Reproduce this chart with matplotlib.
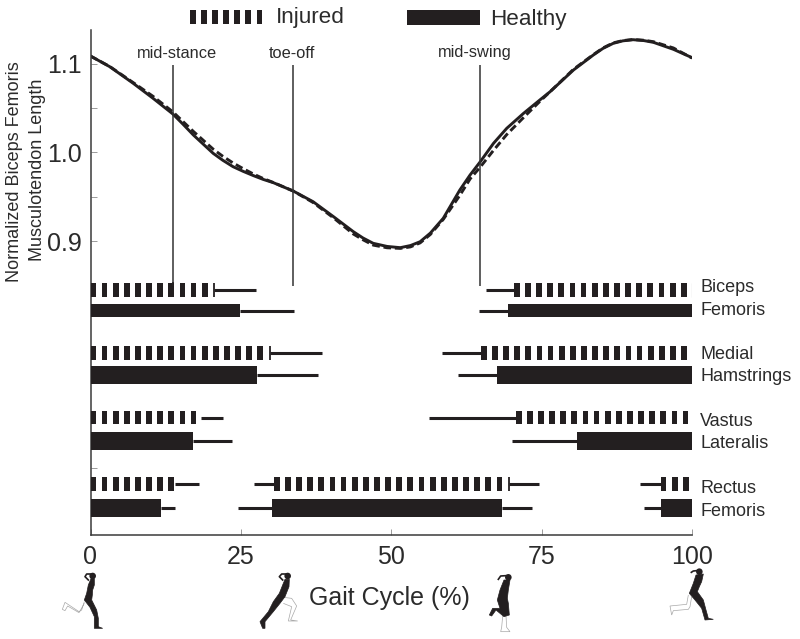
"""Biceps femoris musculotendon length and muscle activity over the gait cycle."""
import numpy as np
import matplotlib
matplotlib.use("Agg")
import matplotlib.pyplot as plt
from matplotlib.patches import Circle, Polygon

plt.rcParams["font.family"] = ["Liberation Sans", "DejaVu Sans"]

INK = "#231f20"
TXT = "#2b2b2b"
GREY = "#8a8a8a"

# curve
GAIT = [0, 3.2, 7.1, 10.4, 13.7, 15.4, 17.1, 20.4, 22, 23.7, 25.4, 27.1, 28.7, 30.4, 33.7, 37, 40.4, 43.7, 45.3, 47,
        49.3, 51.5, 53.2, 54.8, 56.5, 58.65, 61.4, 63.1, 64.8, 67, 69.2, 72, 74.7, 76.4, 80.3, 83.6, 85.2, 86.9,
        88.5, 90.2, 92, 93.6, 96.9, 100]
HEALTHY_LEN = [1.1084, 1.0964, 1.0777, 1.0608, 1.0431, 1.0315, 1.0195, 0.9988, 0.991, 0.9838, 0.9785, 0.9737, 0.9695,
               0.9658, 0.9564, 0.9444, 0.9275, 0.9106, 0.9035, 0.8975, 0.894, 0.8926, 0.895, 0.8993, 0.909, 0.9257,
               0.9575, 0.9744, 0.9894, 1.0101, 1.027, 1.0439, 1.0589, 1.0682, 1.0927, 1.1096, 1.117, 1.1227, 1.1255,
               1.1268, 1.1258, 1.1238, 1.116, 1.1066]
INJURED_LEN = [1.1084, 1.0966, 1.0785, 1.063, 1.0455, 1.0345, 1.0235, 1.0035, 0.9955, 0.988, 0.9815, 0.9755, 0.9705,
               0.966, 0.9564, 0.9435, 0.9262, 0.908, 0.9015, 0.8955, 0.8925, 0.8918, 0.8935, 0.898, 0.9075, 0.9245,
               0.9515, 0.970, 0.9834, 1.0022, 1.02, 1.0392, 1.0573, 1.0682, 1.0935, 1.11, 1.1175, 1.1232, 1.1258,
               1.127, 1.1262, 1.1245, 1.1175, 1.1062]

EVENTS = ["mid-stance", "toe-off", "mid-swing"]
EVENT_X = [13.7, 33.7, 64.8]

# activity on/off in % gait cycle, one entry per muscle
INJ_BARS = [[(0, 19.5), (70.4, 99.1)],
            [(0, 28.7), (64.9, 99.2)],
            [(0, 17.6), (70.7, 99.3)],
            [(0, 13.9), (30.5, 68.4), (94.8, 99.4)]]
INJ_WHISK = [[(20.5, 27.5), (65.7, 70.4)],
             [(29.8, 38.5), (58.5, 65.0)],
             [(18.3, 22.0), (56.3, 70.7)],
             [(14.1, 18.0), (27.2, 30.5), (69.6, 74.5), (91.3, 94.8)]]
INJ_TICKS = [[20.5, 99.95], [29.85], [], [69.65]]
HEA_BARS = [[(0, 24.8), (69.4, 100)],
            [(0, 27.6), (67.5, 100)],
            [(0, 17.1), (80.8, 100)],
            [(0, 11.7), (30.2, 68.4), (94.9, 100)]]
HEA_WHISK = [[(24.8, 33.9), (64.6, 69.4)],
             [(27.6, 37.8), (61.1, 67.5)],
             [(17.1, 23.6), (70.1, 80.8)],
             [(11.7, 14.0), (24.6, 30.2), (68.4, 73.4), (92.1, 94.9)]]
LABELS = ["Biceps", "Femoris", "Medial", "Hamstrings", "Vastus", "Lateralis", "Rectus", "Femoris"]

# layout in figure pixels
L, R, T, B = 90.5, 692.0, 30.0, 535.0
INJ_Y = [289.7, 353.2, 417.5, 484.3]
HEA_Y = [310.7, 375.0, 441.0, 508.0]
HEA_H = [13.4, 18, 18, 18]
INJ_H = 13.8
LABEL_Y = [287.5, 310.5, 354.5, 376.5, 421.5, 444, 488.5, 511]
EVENT_LABEL_X = [177, 292, 475]
PERIOD, STRIPE = 1.85, 0.96


def stripes(ax, lo, hi, y, h):
    starts = np.arange(lo, hi - STRIPE + 0.2, PERIOD)
    ax.broken_barh([(s, STRIPE) for s in starts], (y - h / 2, h), color=INK, lw=0, clip_on=False)


def runner(ax, ox, oy, head, body, leg, tail):
    def px(pts):
        return [(ox + a / 3, oy + b / 3) for a, b in pts]
    ax.add_patch(Polygon(px(leg), closed=False, fill=False, ec="#a8a8a8", lw=0.5))
    ax.add_patch(Polygon(px(body), closed=True, fc=INK, ec=INK, lw=0.5))
    ax.add_patch(Circle((ox + head[0] / 3, oy + head[1] / 3), 3.3, fc=INK, ec=INK, lw=0))
    ax.plot(*zip(*px(tail)), color=INK, lw=1.2)


fig = plt.figure(figsize=(8, 6.39), dpi=100)
box = [L / 800, 1 - B / 639, (R - L) / 800, (B - T) / 639]

ax = fig.add_axes(box)
ax.set_xlim(0, 100)
ax.set_ylim(1.1 - (B - 63.5) / 888, 1.1 - (T - 63.5) / 888)
ax.patch.set_alpha(0)
for s in ["top", "right"]:
    ax.spines[s].set_visible(False)
for s in ["left", "bottom"]:
    ax.spines[s].set_color("#3a3a3a")
    ax.spines[s].set_linewidth(1.1)
ax.set_xticks([0, 25, 50, 75, 100])
ax.set_yticks([0.9, 1.0, 1.1])
ax.set_yticks([0.645, 0.95, 1.05], minor=True)
ax.tick_params(axis="both", which="both", direction="in", length=4.5, width=0.6, color=GREY,
               labelcolor=TXT)
ax.tick_params(axis="x", labelsize=18, pad=7)
ax.tick_params(axis="y", labelsize=18, pad=6)
ax.plot(GAIT, INJURED_LEN, color=INK, lw=2.1, ls=(0, (2.6, 1.3)), solid_capstyle="butt")
ax.plot(GAIT, HEALTHY_LEN, color=INK, lw=2.1, solid_joinstyle="round")

# second axes on the same spot, y in pixels for the activity rows
bx = fig.add_axes(box, sharex=ax)
bx.set_ylim(B, T)
bx.axis("off")
for x in EVENT_X:
    bx.vlines(x, 65, 285.5, color="#333333", lw=1.1)
bx.vlines(EVENT_X[0], 282, 296, color=INK, lw=1.1)

for i in range(4):
    for lo, hi in INJ_BARS[i]:
        stripes(bx, lo, hi, INJ_Y[i], INJ_H)
    for lo, hi in INJ_WHISK[i]:
        bx.hlines(INJ_Y[i], lo, hi, color=INK, lw=2.2)
    for t in INJ_TICKS[i]:
        bx.vlines(t, INJ_Y[i] - INJ_H / 2, INJ_Y[i] + INJ_H / 2, color=INK if t < 99 else GREY,
                  lw=1.3 if t < 99 else 0.8)
    bx.broken_barh([(lo, hi - lo) for lo, hi in HEA_BARS[i]], (HEA_Y[i] - HEA_H[i] / 2, HEA_H[i]),
                   color=INK, lw=0)
    for lo, hi in HEA_WHISK[i]:
        bx.hlines(HEA_Y[i], lo, hi, color=INK, lw=2.2)

# legend
stripes(bx, 16.5, 28.7, 16.8, 13.8)
bx.broken_barh([(52.6, 12.1)], (10, 14.5), color=INK, lw=0, clip_on=False)

# everything else placed in figure pixels
px = fig.add_axes([0, 0, 1, 1])
px.set_xlim(0, 800)
px.set_ylim(639, 0)
px.axis("off")
px.text(276, 18, "Injured", fontsize=16.2, color=TXT, va="center")
px.text(490, 19.5, "Healthy", fontsize=16.2, color=TXT, va="center")
px.text(15, 172, "Normalized Biceps Femoris", rotation=90, fontsize=13, color=TXT, ha="center", va="center")
px.text(38, 170, "Musculotendon Length", rotation=90, fontsize=13, color=TXT, ha="center", va="center")
px.text(389, 598, "Gait Cycle (%)", fontsize=18, color=TXT, ha="center", va="center")
for name, xc in zip(EVENTS, EVENT_LABEL_X):
    px.text(xc, 53, name, ha="center", va="center", fontsize=11.8, color=TXT)
for name, y in zip(LABELS, LABEL_Y):
    px.text(700, y, name, fontsize=13, color=TXT, va="center")

runner(px, 55, 570, (113, 18),
       [(108, 26), (118, 26), (118, 45), (113, 60), (112, 75), (110, 90), (125, 120), (130, 145), (130, 170),
        (143, 175), (118, 175), (118, 140), (105, 112), (88, 90), (95, 70), (100, 45)],
       [(88, 95), (80, 120), (72, 125), (30, 97), (22, 118), (30, 122), (38, 108), (72, 128), (88, 100)],
       [(108, 12), (95, 12), (90, 20), (100, 30)])
runner(px, 250, 570, (113, 18),
       [(105, 28), (118, 28), (117, 50), (105, 80), (90, 100), (70, 125), (45, 155), (45, 175), (38, 175),
        (30, 155), (55, 125), (70, 95), (88, 70), (98, 45)],
       [(100, 82), (125, 85), (140, 108), (122, 150), (143, 153), (115, 153), (118, 140), (125, 110), (100, 100)],
       [(108, 12), (95, 12), (88, 20), (98, 30)])
runner(px, 480, 570, (85, 22),
       [(72, 30), (90, 30), (85, 60), (82, 85), (85, 100), (88, 135), (72, 140), (48, 120), (35, 138), (28, 135),
        (38, 115), (60, 115), (52, 90), (60, 60)],
       [(68, 138), (65, 172), (62, 185), (90, 185), (80, 172), (78, 138)],
       [(78, 17), (62, 18), (55, 28)])
runner(px, 660, 570, (118, 5),
       [(108, 15), (130, 12), (125, 35), (118, 50), (112, 65), (130, 90), (138, 120), (145, 145), (160, 148),
        (135, 150), (125, 115), (105, 90), (88, 70), (100, 40)],
       [(95, 80), (90, 110), (85, 118), (40, 122), (35, 135), (30, 108), (80, 103), (85, 75)],
       [(110, 2), (100, 3), (94, 7)])

fig.savefig("out.png", dpi=100)
